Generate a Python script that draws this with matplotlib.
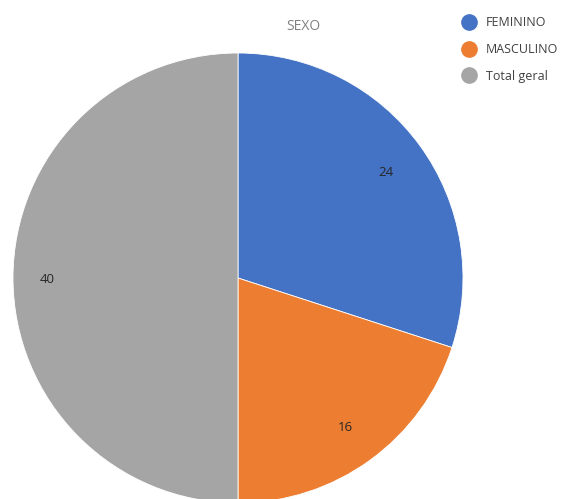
import matplotlib
matplotlib.use("Agg")
import matplotlib.pyplot as plt
from matplotlib.lines import Line2D
import numpy as np

categories = ["FEMININO", "MASCULINO", "Total geral"]
values = [24, 16, 40]
colors = ["#4472C4", "#ED7D31", "#A5A5A5"]
title = "SEXO"

plt.rcParams['font.family'] = ['Open Sans', 'DejaVu Sans']

W, H = 563, 499
fig = plt.figure(figsize=(W/100, H/100), dpi=100)
cx, cy, r = 238, 278, 225
ax = fig.add_axes([(cx - r)/W, (H - cy - r)/H, 2*r/W, 2*r/H])
wedges, texts = ax.pie(values, colors=colors, startangle=90, counterclock=False,
                       radius=1, wedgeprops=dict(edgecolor="white", linewidth=0.6))
ax.set_xlim(-1, 1)
ax.set_ylim(-1, 1)
ax.set_aspect("equal")
ax.axis("off")

ang = 90
dists = [0.81, 0.81, 0.85]
for v, d in zip(values, dists):
    span = v / sum(values) * 360
    mid = np.deg2rad(ang - span/2)
    ax.text(d*np.cos(mid), d*np.sin(mid) - 0.008, str(v), ha="center", va="center",
            fontsize=9.5, color="#262626")
    ang -= span

fig.text(303/W, 1 - 27/H, title, ha="center", va="center", fontsize=10, color="#808080")

handles = [Line2D([0], [0], marker="o", linestyle="none", markersize=11,
                  markerfacecolor=c, markeredgecolor=c) for c in colors]
leg = fig.legend(handles, categories, loc="upper left",
                 bbox_to_anchor=(448/W, 1 - 5/H), frameon=False, fontsize=9,
                 labelspacing=1.1, handletextpad=0.65, labelcolor="#404040",
                 handlelength=1.5)

fig.savefig("out.png", dpi=100)
